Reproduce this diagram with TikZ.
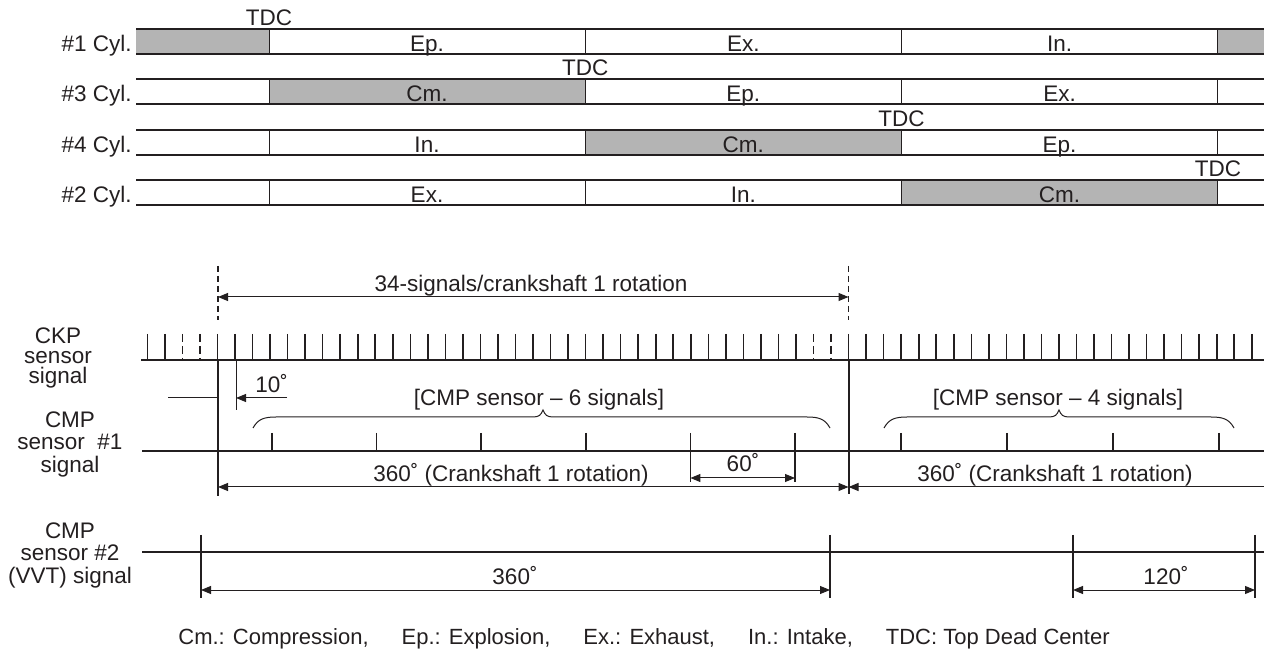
\documentclass[tikz,border=0pt]{standalone}
\usepackage{fontspec}
\setmainfont{Liberation Sans}
\usepackage{xcolor}
\definecolor{inkline}{RGB}{35,31,32}
\definecolor{phasegray}{RGB}{180,180,180}
\usetikzlibrary{arrows.meta}
\newcommand{\dg}{˚}

\begin{document}
\begin{tikzpicture}[x=0.5pt,y=-0.5pt,font=\fontsize{11.25}{11.25}\selectfont,
  draw=inkline,text=inkline,
  txt/.style={inner sep=0pt},
  rowline/.style={line width=1pt},
  cellline/.style={line width=0.5pt},
  sigline/.style={line width=1pt},
  tooth/.style={line width=0.8pt},
  tdcline/.style={line width=0.6pt,dash pattern=on 3pt off 2pt},
  thinline/.style={line width=0.5pt},
  dimline/.style={line width=0.5pt,>={Triangle[length=5pt,width=4pt]}}]
  \useasboundingbox (0,0) rectangle (1264,662);

  % Tabla de tiempos por cilindro (filas #1, #3, #4, #2)
  \foreach \r/\cyl/\ta/\tb/\tc in {0/1/Ep./Ex./In., 1/3/Cm./Ep./Ex., 2/4/In./Cm./Ep., 3/2/Ex./In./Cm.}{
    \pgfmathsetmacro{\yt}{29+50.3*\r}
    \pgfmathsetmacro{\yb}{\yt+25}
    \ifnum\r=0
      \fill[phasegray] (136,\yt) rectangle (269,\yb);
      \fill[phasegray] (1217.9,\yt) rectangle (1264,\yb);
    \else
      \fill[phasegray] (269+316.3*\r-316.3,\yt) rectangle (269+316.3*\r,\yb);
    \fi
    \foreach \c in {0,1,2,3}{\draw[cellline] (269+316.3*\c,\yt) -- (269+316.3*\c,\yb);}
    \draw[rowline] (136,\yt) -- (1264,\yt);
    \draw[rowline] (136,\yb) -- (1264,\yb);
    \node[txt,anchor=base east] (cyl\r) at (132,\yb-2.5) {\#\cyl\ Cyl.};
    \node[txt,anchor=base] (pa\r) at (427,\yb-2.5) {\ta};
    \node[txt,anchor=base] (pb\r) at (743.3,\yb-2.5) {\tb};
    \node[txt,anchor=base] (pc\r) at (1059.6,\yb-2.5) {\tc};
    \node[txt,anchor=base] (tdc\r) at (269+316.3*\r,\yt-3.5) {TDC};
  }

  % Referencias TDC y senal CKP
  \coordinate (tdcA) at (218,297);
  \coordinate (tdcB) at (848.5,297);
  \draw[tdcline] (218,266) -- (218,320);
  \draw[tdcline] (848.5,266) -- (848.5,320);
  \draw[dimline,<->] (tdcA) -- (tdcB);
  \node[txt,anchor=base] (rot) at (531,292) {34-signals/crankshaft 1 rotation};

  \node[txt,align=center,font=\fontsize{11.25}{10}\selectfont] (ckp) at (58,358) {CKP\\sensor\\signal};
  \draw[sigline] (141,360) -- (1264,360);
  \foreach \k in {-4,-3,0,1,...,33}{\draw[tooth] (217.5+17.53*\k,334) -- (217.5+17.53*\k,360);}
  \foreach \k in {36,37,...,59}{\draw[tooth] (217.5+17.53*\k,334) -- (217.5+17.53*\k,360);}
  \foreach \k in {-2,-1,34,35}{\draw[tooth,dash pattern=on 4pt off 2pt] (217.5+17.53*\k,334) -- (217.5+17.53*\k,360);}

  % 10 grados
  \coordinate (tenA) at (287,398);
  \coordinate (tenB) at (236,398);
  \draw[thinline] (168,398) -- (218,398);
  \draw[thinline] (236,360) -- (236,410);
  \draw[dimline,->] (tenA) -- (tenB);
  \node[txt,anchor=base west] (ten) at (255,393) {10\dg};

  % Senal CMP #1
  \node[txt,align=center] (cmpa) at (70,444) {CMP\\sensor \ \#1\\signal};
  \draw[sigline] (142,451) -- (1264,451);
  \draw[sigline] (218,360) -- (218,496);
  \draw[sigline] (848.5,360) -- (848.5,494);
  \foreach \x in {272,376.6,481.2,585.8}{\draw[tooth] (\x,433) -- (\x,451);}
  \foreach \x in {690.4,795}{\draw[tooth] (\x,433) -- (\x,482);}
  \foreach \x in {901,1007,1113,1219}{\draw[tooth] (\x,433) -- (\x,451);}
  \draw[thinline] (253,428) .. controls (258,419) and (264,417) .. (276,417) -- (533,417)
    .. controls (539,417) and (541,415) .. (543,410) .. controls (545,415) and (547,417) .. (553,417)
    -- (807,417) .. controls (819,417) and (825,419) .. (830,428);
  \draw[thinline] (884,428) .. controls (889,419) and (895,417) .. (907,417) -- (1049,417)
    .. controls (1055,417) and (1057,415) .. (1059,410) .. controls (1061,415) and (1063,417) .. (1069,417)
    -- (1211,417) .. controls (1223,417) and (1229,419) .. (1234,428);
  \node[txt,anchor=base] (six) at (539,406) {[CMP sensor – 6 signals]};
  \node[txt,anchor=base] (four) at (1058,406) {[CMP sensor – 4 signals]};

  \coordinate (sixtyA) at (690.4,478);
  \coordinate (sixtyB) at (795,478);
  \draw[dimline,<->] (sixtyA) -- (sixtyB);
  \node[txt,anchor=base] (sixty) at (743,472) {60\dg};

  \coordinate (revA) at (218,487);
  \coordinate (revB) at (848.5,487);
  \coordinate (revC) at (1264,487);
  \draw[dimline,<->] (revA) -- (revB);
  \draw[dimline,<-] (revB) -- (revC);
  \node[txt,anchor=base] (reva) at (511,481) {360\dg\ (Crankshaft 1 rotation)};
  \node[txt,anchor=base] (revb) at (1055,481) {360\dg\ (Crankshaft 1 rotation)};

  % Senal CMP #2 (VVT)
  \node[txt,align=center] (cmpb) at (70,555) {CMP\\sensor \#2\\(VVT) signal};
  \draw[sigline] (142,552) -- (1264,552);
  \foreach \x in {201,830,1073,1255}{\draw[sigline] (\x,535) -- (\x,598);}
  \coordinate (vvtA) at (201,590);
  \coordinate (vvtB) at (830,590);
  \coordinate (vvtC) at (1073,590);
  \coordinate (vvtD) at (1255,590);
  \draw[dimline,<->] (vvtA) -- (vvtB);
  \draw[dimline,<->] (vvtC) -- (vvtD);
  \node[txt,anchor=base] (vvta) at (515,584) {360\dg};
  \node[txt,anchor=base] (vvtb) at (1166,584) {120\dg};

  % Leyenda
  \node[txt,anchor=base west,font=\fontsize{11}{11}\selectfont] (legend) at (178,644) {Cm.: Compression,\hspace{1.5em}Ep.: Explosion,\hspace{1.5em}Ex.: Exhaust,\hspace{1.5em}In.: Intake,\hspace{1.5em}TDC: Top Dead Center};
\end{tikzpicture}
\end{document}
